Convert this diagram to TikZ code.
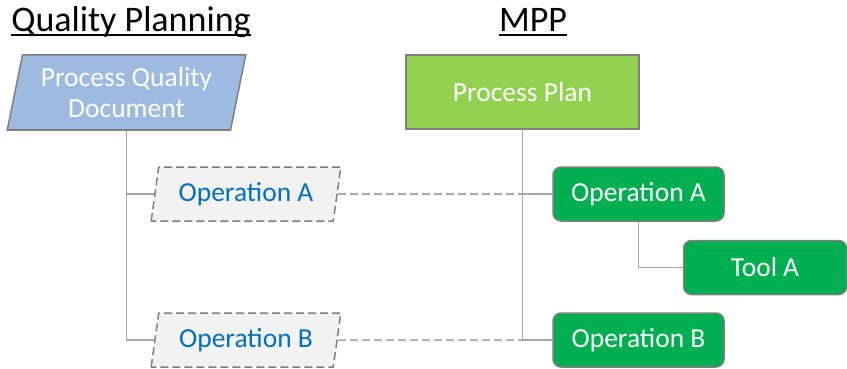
\documentclass[tikz,border=0pt]{standalone}
\usepackage{fontspec}
\setmainfont{Carlito}
\usetikzlibrary{shapes.geometric}
\definecolor{mppLightBlue}{RGB}{157, 187, 225}
\definecolor{mppLightGreen}{RGB}{146, 208, 80}
\definecolor{mppGreen}{RGB}{0, 176, 80}
\definecolor{mppBlue}{RGB}{0, 112, 192}
\definecolor{mppPaleGrey}{RGB}{242, 242, 242}
\definecolor{mppLine}{RGB}{166, 166, 166}
\definecolor{mppBorder}{RGB}{127, 127, 127}

% underlined heading with the rule at a fixed depth
\newcommand\headline[1]{\setbox0\hbox{#1}\rlap{\rule[-5pt]{\wd0}{2pt}}\box0}

\begin{document}
\begin{tikzpicture}[
  x=1pt, y=-1pt,
  heading/.style={font=\fontsize{36}{40}\selectfont},
  slanted/.style={
    trapezium,
    trapezium left angle=76,
    trapezium right angle=104,
    trapezium stretches=true,
    draw=mppBorder,
    line width=1.5pt,
    inner sep=0pt,
    align=center,
    font=\fontsize{27.5}{31}\selectfont
  },
  docbox/.style={slanted,fill=mppLightBlue,text=white,
    minimum width=239pt,minimum height=75pt},
  opref/.style={slanted,fill=mppPaleGrey,text=mppBlue,dashed,
    dash pattern=on 8pt off 4pt,minimum width=190pt,minimum height=54pt},
  planbox/.style={
    draw=mppBorder,
    line width=1.5pt,
    fill=mppLightGreen,
    text=white,
    minimum width=233pt,
    minimum height=74pt,
    font=\fontsize{27.5}{31}\selectfont
  },
  item/.style={
    draw=mppBorder,
    line width=1.5pt,
    rounded corners=8pt,
    fill=mppGreen,
    text=white,
    minimum width=171pt,
    minimum height=54pt,
    font=\fontsize{27.5}{31}\selectfont
  },
  tree/.style={draw=mppLine,line width=1.5pt},
  link/.style={draw=mppLine,line width=1.5pt,dash pattern=on 8pt off 4pt}
]
  \useasboundingbox (0,0) rectangle (847,369);

  % column headings
  \node[heading] (qptitle) at (131,22) {\headline{Quality Planning}};
  \node[heading] (mpptitle) at (533,22) {\headline{MPP}};

  % quality planning side
  \node[docbox] (qdoc) at (126.5,92.5) {Process Quality\\Document};
  \node[opref] (qopa) at (246,194) {Operation A};
  \node[opref] (qopb) at (246,340) {Operation B};

  % MPP side
  \node[planbox] (plan) at (522.5,92) {Process Plan};
  \node[item] (opa) at (638.5,194) {Operation A};
  \node[item,minimum width=163pt] (toola) at (765,267.5) {Tool A};
  \node[item] (opb) at (638.5,340) {Operation B};

  \draw[tree] (qdoc.south) |- (qopa.west);
  \draw[tree] (qdoc.south) |- (qopb.west);
  \draw[tree] (plan.south) |- (opa.west);
  \draw[tree] (plan.south) |- (opb.west);
  \draw[tree] (opa.south) |- (toola.west);

  \draw[link] (qopa.east) -- (opa.west);
  \draw[link] (qopb.east) -- (opb.west);
\end{tikzpicture}
\end{document}
